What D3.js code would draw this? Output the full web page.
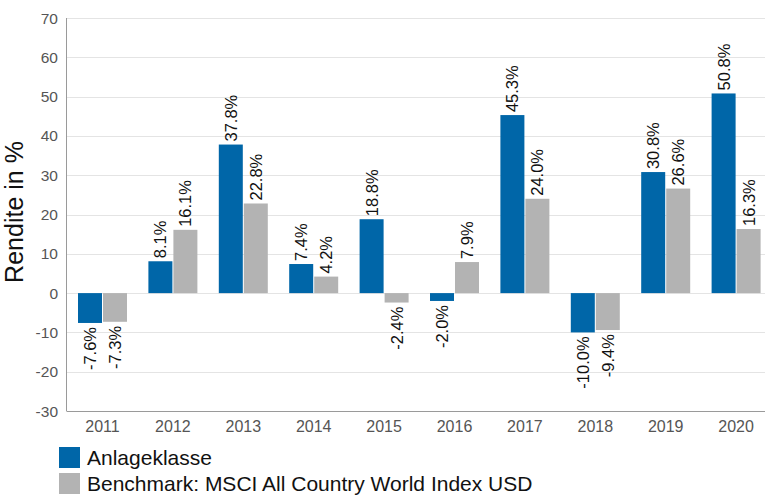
<!DOCTYPE html>
<html>
<head>
<meta charset="utf-8">
<script src="https://cdn.jsdelivr.net/npm/d3@7"></script>
<style>
  body { margin: 0; background: #fff; }
  svg { display: block; font-family: "Liberation Sans", Arial, sans-serif; }
</style>
</head>
<body>
<div id="chart"></div>
<script>
var years = ["2011", "2012", "2013", "2014", "2015", "2016", "2017", "2018", "2019", "2020"];
var anlage = [-7.6, 8.1, 37.8, 7.4, 18.8, -2.0, 45.3, -10.0, 30.8, 50.8];
var benchmark = [-7.3, 16.1, 22.8, 4.2, -2.4, 7.9, 24.0, -9.4, 26.6, 16.3];
var seriesNames = ["Anlageklasse", "Benchmark: MSCI All Country World Index USD"];
var colors = ["#0066a8", "#b3b3b3"];
var yTicks = [-30, -20, -10, 0, 10, 20, 30, 40, 50, 60, 70];

var width = 765, height = 498;
var plotLeft = 66.5, plotRight = 770.5, plotTop = 18, plotBottom = 411;

var svg = d3.select("#chart").append("svg")
    .attr("width", width)
    .attr("height", height);

var x = d3.scaleBand()
    .domain(years)
    .range([plotLeft, plotRight]);

var y = d3.scaleLinear()
    .domain([-30, 70])
    .range([plotBottom, plotTop]);

// gridlines
svg.append("g")
    .selectAll("line")
    .data(yTicks.filter(function(d) { return d > -30; }))
    .enter().append("line")
    .attr("x1", plotLeft)
    .attr("x2", width)
    .attr("y1", function(d) { return Math.round(y(d)) + 0.5; })
    .attr("y2", function(d) { return Math.round(y(d)) + 0.5; })
    .attr("stroke", "#e4e4e4")
    .attr("stroke-width", 1);

var barW = 24, gap = 1, inset = 11.5;
var series = [anlage, benchmark];

series.forEach(function(vals, s) {
    var g = svg.append("g");
    g.selectAll("rect")
        .data(vals)
        .enter().append("rect")
        .attr("x", function(d, i) { return x(years[i]) + inset + s * (barW + gap); })
        .attr("y", function(d) { return y(Math.max(0, d)); })
        .attr("width", barW)
        .attr("height", function(d) { return Math.abs(y(d) - y(0)); })
        .attr("fill", colors[s]);

    g.selectAll("text")
        .data(vals)
        .enter().append("text")
        .attr("transform", function(d, i) {
            var cx = x(years[i]) + inset + s * (barW + gap) + barW / 2;
            var ty = d >= 0 ? y(d) - 3 : y(d) + 4;
            return "translate(" + (cx + 6) + "," + ty + ") rotate(-90)";
        })
        .attr("text-anchor", function(d) { return d >= 0 ? "start" : "end"; })
        .attr("font-size", "16.5px")
        .attr("fill", "#111")
        .text(function(d) { return d.toFixed(1) + "%"; });
});

// axes lines
svg.append("line")
    .attr("x1", plotLeft).attr("x2", plotLeft)
    .attr("y1", plotTop).attr("y2", plotBottom)
    .attr("stroke", "#9a9a9a");
svg.append("line")
    .attr("x1", plotLeft).attr("x2", width)
    .attr("y1", plotBottom + 0.5).attr("y2", plotBottom + 0.5)
    .attr("stroke", "#9a9a9a");

// y tick labels
svg.append("g")
    .selectAll("text")
    .data(yTicks)
    .enter().append("text")
    .attr("x", 58)
    .attr("y", function(d) { return y(d) + 5.5; })
    .attr("text-anchor", "end")
    .attr("font-size", "15.5px")
    .attr("fill", "#555")
    .text(function(d) { return d; });

// x tick labels
svg.append("g")
    .selectAll("text")
    .data(years)
    .enter().append("text")
    .attr("x", function(d) { return x(d) + inset + barW + gap / 2; })
    .attr("y", 432)
    .attr("text-anchor", "middle")
    .attr("font-size", "16px")
    .attr("fill", "#555")
    .text(function(d) { return d; });

// y axis title
svg.append("text")
    .attr("transform", "translate(23,212) rotate(-90)")
    .attr("text-anchor", "middle")
    .attr("font-size", "25px")
    .attr("fill", "#111")
    .text("Rendite in %");

// legend
var legend = svg.append("g");
seriesNames.forEach(function(name, i) {
    legend.append("rect")
        .attr("x", 59)
        .attr("y", 447 + i * 26)
        .attr("width", 21)
        .attr("height", 21)
        .attr("fill", colors[i]);
    legend.append("text")
        .attr("x", 87)
        .attr("y", 465 + i * 26)
        .attr("font-size", "21px")
        .attr("fill", "#111")
        .text(name);
});
</script>
</body>
</html>
